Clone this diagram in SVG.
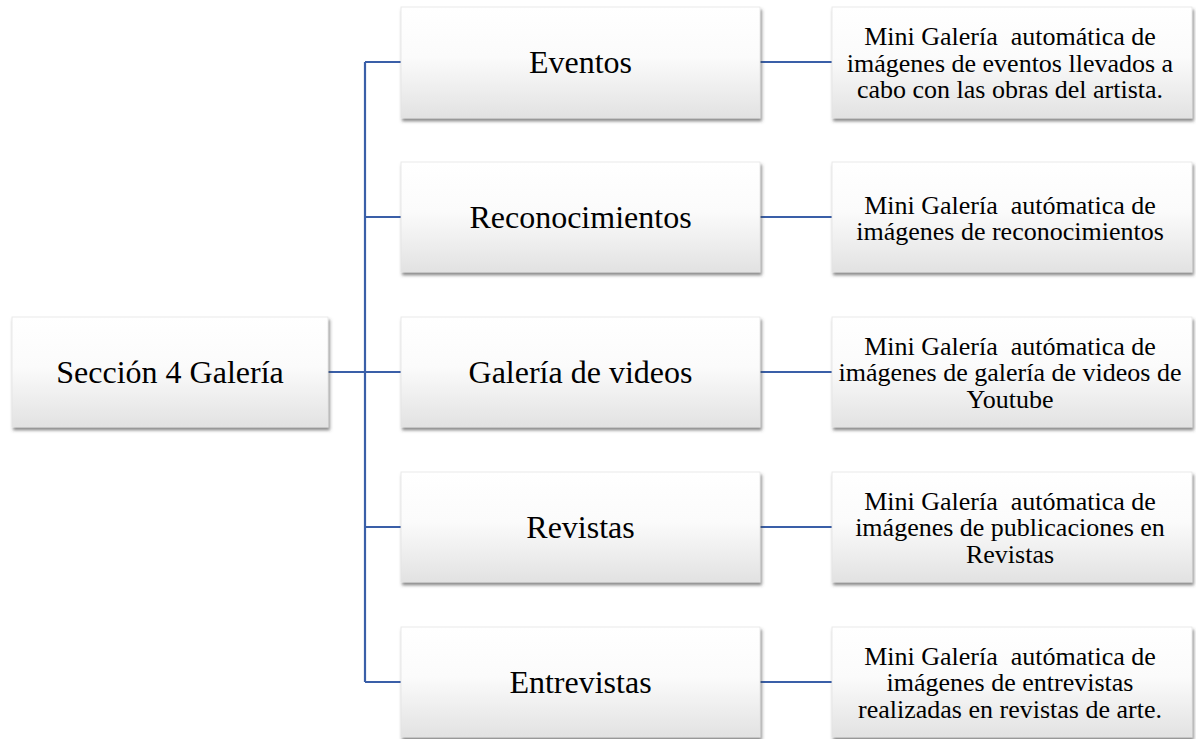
<svg xmlns="http://www.w3.org/2000/svg" width="1196" height="739" viewBox="0 0 1196 739">
<defs>
<linearGradient id="g" x1="0" y1="0" x2="0" y2="1">
<stop offset="0" stop-color="#ffffff"/>
<stop offset="0.45" stop-color="#fbfbfb"/>
<stop offset="1" stop-color="#e2e2e2"/>
</linearGradient>
<filter id="sh" x="-10%" y="-10%" width="125%" height="130%">
<feDropShadow dx="1.5" dy="3" stdDeviation="1.8" flood-color="#404040" flood-opacity="0.6"/>
</filter>
</defs>
<style>
.box{fill:url(#g);stroke:#e4e4e4;stroke-width:0.8;filter:url(#sh)}
.t{font-family:"Liberation Serif","Times New Roman",serif;fill:#000;text-anchor:middle}
.big{font-size:32px}
.small{font-size:26px}
.con{stroke:#3A5FA8;stroke-width:2.2;fill:none}
</style>
<rect width="1196" height="739" fill="#ffffff"/>
<g id="connectors">
<path class="con" d="M328 372H365M365 62V682M365 62H401M365 217H401M365 372H401M365 527H401M365 682H401"/>
<path class="con" d="M760 62H832M760 217H832M760 372H832M760 527H832M760 682H832"/>
</g>
<g id="root">
<rect class="box" x="12" y="317" width="316" height="110"/>
<text class="t big" x="170" y="383" font-size="31.5">Sección 4 Galería</text>
</g>
<g id="eventos">
<rect class="box" x="401" y="7" width="359" height="111"/>
<text class="t big" x="580.5" y="73">Eventos</text>
</g>
<g id="reconocimientos">
<rect class="box" x="401" y="162" width="359" height="110"/>
<text class="t big" x="580.5" y="228">Reconocimientos</text>
</g>
<g id="galeria-videos">
<rect class="box" x="401" y="317" width="359" height="110"/>
<text class="t big" x="580.5" y="383">Galería de videos</text>
</g>
<g id="revistas">
<rect class="box" x="401" y="472" width="359" height="110"/>
<text class="t big" x="580.5" y="538">Revistas</text>
</g>
<g id="entrevistas">
<rect class="box" x="401" y="627" width="359" height="110"/>
<text class="t big" x="580.5" y="693">Entrevistas</text>
</g>
<g id="desc-eventos">
<rect class="box" x="832" y="7" width="360" height="111"/>
<text class="t small" xml:space="preserve"><tspan x="1010" y="45">Mini Galería  automática de</tspan><tspan x="1010" y="71.5">imágenes de eventos llevados a</tspan><tspan x="1010" y="98">cabo con las obras del artista.</tspan></text>
</g>
<g id="desc-reconocimientos">
<rect class="box" x="832" y="162" width="360" height="110"/>
<text class="t small" xml:space="preserve"><tspan x="1010" y="213.5">Mini Galería  autómatica de</tspan><tspan x="1010" y="240">imágenes de reconocimientos</tspan></text>
</g>
<g id="desc-galeria-videos">
<rect class="box" x="832" y="317" width="360" height="110"/>
<text class="t small" xml:space="preserve"><tspan x="1010" y="354.5">Mini Galería  autómatica de</tspan><tspan x="1010" y="381">imágenes de galería de videos de</tspan><tspan x="1010" y="407.5">Youtube</tspan></text>
</g>
<g id="desc-revistas">
<rect class="box" x="832" y="472" width="360" height="110"/>
<text class="t small" xml:space="preserve"><tspan x="1010" y="509.5">Mini Galería  autómatica de</tspan><tspan x="1010" y="536">imágenes de publicaciones en</tspan><tspan x="1010" y="562.5">Revistas</tspan></text>
</g>
<g id="desc-entrevistas">
<rect class="box" x="832" y="627" width="360" height="110"/>
<text class="t small" xml:space="preserve"><tspan x="1010" y="664.5">Mini Galería  autómatica de</tspan><tspan x="1010" y="691">imágenes de entrevistas</tspan><tspan x="1010" y="717.5">realizadas en revistas de arte.</tspan></text>
</g>
</svg>
